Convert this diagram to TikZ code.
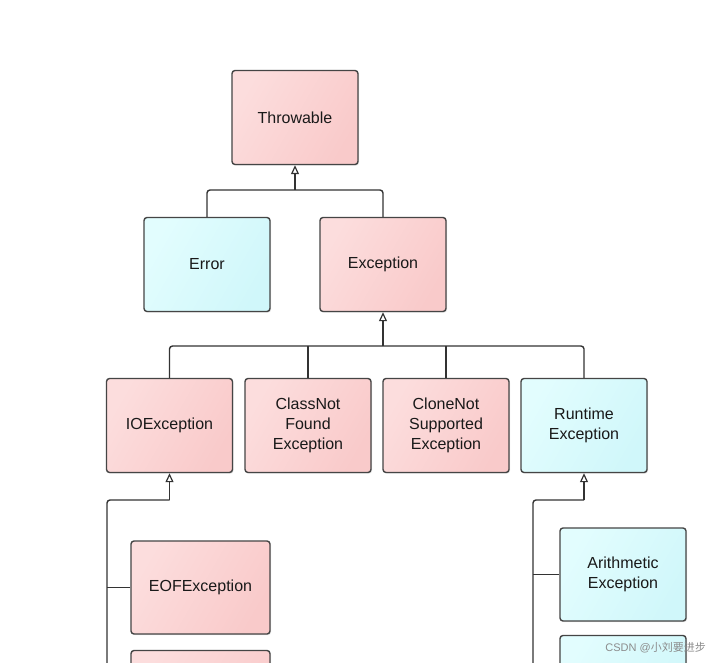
\documentclass[tikz,border=0pt]{standalone}
\usepackage{fontspec}
\setmainfont{Liberation Sans}
\newfontfamily\cjk{Noto Sans CJK SC}
\usetikzlibrary{arrows.meta,shadows}
\definecolor{pinkA}{HTML}{FCDDDD}
\definecolor{pinkB}{HTML}{F9CACA}
\definecolor{cyanA}{HTML}{E2FDFE}
\definecolor{cyanB}{HTML}{D0F7FA}
\definecolor{edgec}{HTML}{454545}
\begin{document}
\begin{tikzpicture}[x=1pt,y=-1pt,
  box/.style={draw=edgec, line width=1.4pt, rounded corners=3pt,
    minimum width=126pt, minimum height=94pt, align=center,
    font=\fontsize{16}{20}\selectfont, text=black!90, inner sep=0pt,
    drop shadow={opacity=0.2, shadow xshift=1pt, shadow yshift=-1.2pt}},
  redbox/.style={box, left color=pinkA, right color=pinkB, shading angle=60},
  bluebox/.style={box, left color=cyanA, right color=cyanB, shading angle=60},
  conn/.style={draw=black!80, line width=1.4pt, rounded corners=3pt},
  arr/.style={-{Triangle[open, width=8pt, length=9pt, line width=1.2pt]}}
]
\useasboundingbox[fill=white] (0,0) rectangle (717,663);

\node[redbox] (thr) at (295,117.5) {Throwable};
\node[bluebox] (err) at (207,264.5) {Error};
\node[redbox] (exc) at (383,264.5) {Exception};
\node[redbox] (io) at (169.5,425.5) {IOException};
\node[redbox] (cnf) at (308,425.5) {ClassNot\\Found\\Exception};
\node[redbox] (cns) at (446,425.5) {CloneNot\\Supported\\Exception};
\node[bluebox] (rt) at (584,425.5) {Runtime\\Exception};
\node[redbox, minimum width=139pt, minimum height=93pt] (eof) at (200.5,587.5) {EOFException};
\node[redbox, minimum width=139pt, minimum height=93pt] (io2) at (200.5,697) {};
\node[bluebox, minimum height=93pt] (ar) at (623,574.5) {Arithmetic\\Exception};
\node[bluebox, minimum height=93pt] (rt2) at (623,682) {};

\coordinate (j1) at (295,190);
\coordinate (j2) at (383,346);
\coordinate (j3) at (169.5,500);
\coordinate (j4) at (584,500);
\coordinate (ioEnd) at (107,670);
\coordinate (rtEnd) at (533,670);

\draw[conn] (err.north) |- (j1) -| (exc.north);
\draw[conn, arr] (j1) -- (thr.south);

\draw[conn] (io.north) |- (j2) -| (rt.north);
\draw[conn] (cnf.north) -- (cnf.north |- j2);
\draw[conn] (cns.north) -- (cns.north |- j2);
\draw[conn, arr] (j2) -- (exc.south);

\draw[conn] (j3) -| (ioEnd);
\draw[conn, arr] (j3) -- (io.south);
\draw[conn] (eof.west) -- (eof.west -| ioEnd);

\draw[conn] (j4) -| (rtEnd);
\draw[conn, arr] (j4) -- (rt.south);
\draw[conn] (ar.west) -- (ar.west -| rtEnd);

\node[anchor=east, text=black!45, font=\fontsize{11}{13}\selectfont, inner sep=0pt] (wm) at (706,648) {CSDN @{\cjk 小刘要进步}};
\end{tikzpicture}
\end{document}
